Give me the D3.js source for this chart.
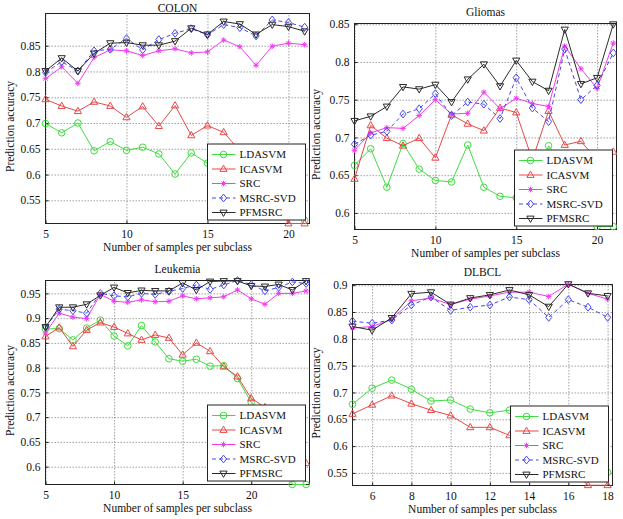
<!DOCTYPE html>
<html><head><meta charset="utf-8">
<script src="https://cdn.jsdelivr.net/npm/d3@7"></script>
<style>
body{margin:0;background:#fff}
svg{display:block}
text{font-family:"Liberation Serif","Times New Roman",serif;fill:#111}
</style></head><body>
<svg id="chart" width="623" height="519"></svg>
<script>
// ---------- data ----------
const seriesNames = ["LDASVM","ICASVM","SRC","MSRC-SVD","PFMSRC"];

const colonX = [5,6,7,8,9,10,11,12,13,14,15,16,17,18,19,20,21];
const colonLDASVM  = [0.699,0.681,0.700,0.646,0.664,0.647,0.653,0.640,0.601,0.642,0.622,0.610,0.598,0.580,0.560,0.540,0.511];
const colonICASVM  = [0.746,0.733,0.723,0.741,0.733,0.711,0.732,0.694,0.734,0.676,0.695,0.682,0.646,0.620,0.570,0.505,0.505];
const colonSRC     = [0.786,0.809,0.777,0.827,0.842,0.840,0.831,0.840,0.844,0.836,0.838,0.861,0.848,0.812,0.849,0.855,0.852];
const colonMSRCSVD = [0.798,0.819,0.801,0.840,0.843,0.864,0.842,0.862,0.874,0.883,0.871,0.891,0.885,0.869,0.900,0.895,0.886];
const colonPFMSRC  = [0.801,0.826,0.801,0.835,0.855,0.856,0.851,0.851,0.859,0.884,0.872,0.897,0.892,0.872,0.891,0.887,0.878];
const colonXTicks = [5,10,15,20];
const colonYTicks = [0.55,0.6,0.65,0.7,0.75,0.8,0.85];

const gliomasX = [5,6,7,8,9,10,11,12,13,14,15,16,17,18,19,20,21];
const gliomasLDASVM  = [0.663,0.685,0.634,0.692,0.658,0.643,0.641,0.690,0.634,0.622,0.620,0.615,0.689,0.660,0.630,0.582,0.582];
const gliomasICASVM  = [0.645,0.716,0.699,0.689,0.699,0.673,0.730,0.718,0.709,0.739,0.733,0.670,0.735,0.690,0.695,0.670,0.681];
const gliomasSRC     = [0.683,0.706,0.713,0.712,0.729,0.750,0.731,0.732,0.760,0.738,0.752,0.745,0.741,0.821,0.791,0.765,0.825];
const gliomasMSRCSVD = [0.691,0.703,0.708,0.731,0.738,0.758,0.729,0.747,0.744,0.725,0.779,0.739,0.721,0.817,0.750,0.769,0.812];
const gliomasPFMSRC  = [0.722,0.728,0.741,0.767,0.764,0.770,0.747,0.777,0.797,0.768,0.802,0.774,0.762,0.843,0.771,0.779,0.850];
const gliomasXTicks = [5,10,15,20];
const gliomasYTicks = [0.6,0.65,0.7,0.75,0.8,0.85];

const leukemiaX = [5,6,7,8,9,10,11,12,13,14,15,16,17,18,19,20,21,22,23,24];
const leukemiaLDASVM  = [0.878,0.879,0.856,0.880,0.896,0.864,0.844,0.885,0.852,0.818,0.813,0.817,0.803,0.804,0.778,0.730,0.700,0.660,0.564,0.564];
const leukemiaICASVM  = [0.863,0.881,0.843,0.876,0.891,0.882,0.869,0.856,0.866,0.860,0.826,0.850,0.833,0.802,0.782,0.738,0.720,0.690,0.650,0.607];
const leukemiaSRC     = [0.870,0.910,0.902,0.899,0.948,0.934,0.932,0.937,0.933,0.934,0.945,0.939,0.941,0.943,0.957,0.939,0.928,0.950,0.950,0.955];
const leukemiaMSRCSVD = [0.882,0.918,0.915,0.910,0.950,0.945,0.943,0.950,0.948,0.954,0.960,0.967,0.958,0.967,0.976,0.968,0.955,0.962,0.973,0.970];
const leukemiaPFMSRC  = [0.882,0.922,0.922,0.928,0.946,0.962,0.951,0.956,0.955,0.955,0.971,0.957,0.974,0.975,0.975,0.965,0.964,0.968,0.957,0.975];
const leukemiaXTicks = [5,10,15,20];
const leukemiaYTicks = [0.6,0.65,0.7,0.75,0.8,0.85,0.9,0.95];

const dlbclX = [5,6,7,8,9,10,11,12,13,14,15,16,17,18];
const dlbclLDASVM  = [0.678,0.708,0.723,0.706,0.684,0.686,0.669,0.662,0.667,0.660,0.630,0.600,0.570,0.551];
const dlbclICASVM  = [0.660,0.677,0.694,0.679,0.667,0.657,0.635,0.635,0.620,0.600,0.580,0.560,0.527,0.527];
const dlbclSRC     = [0.820,0.823,0.836,0.871,0.876,0.864,0.874,0.880,0.887,0.887,0.879,0.902,0.885,0.874];
const dlbclMSRCSVD = [0.833,0.829,0.835,0.863,0.878,0.853,0.859,0.863,0.878,0.873,0.840,0.873,0.859,0.840];
const dlbclPFMSRC  = [0.823,0.816,0.839,0.884,0.887,0.864,0.876,0.882,0.891,0.882,0.860,0.902,0.885,0.880];
const dlbclXTicks = [6,8,10,12,14,16,18];
const dlbclYTicks = [0.55,0.6,0.65,0.7,0.75,0.8,0.85,0.9];

// ---------- styles ----------
const styles = [
  {color:"#3fdc3f", marker:"circle",   dash:null},
  {color:"#e84848", marker:"triUp",    dash:null},
  {color:"#f03cf0", marker:"star",     dash:null},
  {color:"#4848ee", marker:"diamond",  dash:"4,3"},
  {color:"#2a2a2a", marker:"triDown",  dash:null}
];
const markerPath = {
  circle:  "M3.3,0A3.3,3.3 0 1,1 -3.3,0A3.3,3.3 0 1,1 3.3,0Z",
  triUp:   "M0,-3.9L3.6,2.4L-3.6,2.4Z",
  triDown: "M0,3.9L3.6,-2.4L-3.6,-2.4Z",
  diamond: "M0,-3.9L3.1,0L0,3.9L-3.1,0Z",
  star:    "M-2.8,0H2.8M0,-2.8V2.8M-2,-2L2,2M-2,2L2,-2"
};

const panels = [
  {title:"COLON",    x:colonX,    ys:[colonLDASVM,colonICASVM,colonSRC,colonMSRCSVD,colonPFMSRC],
   xTicks:colonXTicks, yTicks:colonYTicks, xDomain:[5,21.3], yDomain:[0.505,0.9125],
   left:45.5, right:309.5, top:13.5, bottom:223.5, titleY:7.5, ylabX:9.5},
  {title:"Gliomas",  x:gliomasX,  ys:[gliomasLDASVM,gliomasICASVM,gliomasSRC,gliomasMSRCSVD,gliomasPFMSRC],
   xTicks:gliomasXTicks, yTicks:gliomasYTicks, xDomain:[5,21.2], yDomain:[0.578,0.851],
   left:354.5, right:616.5, top:23.5, bottom:229.5, titleY:12, ylabX:316},
  {title:"Leukemia", x:leukemiaX, ys:[leukemiaLDASVM,leukemiaICASVM,leukemiaSRC,leukemiaMSRCSVD,leukemiaPFMSRC],
   xTicks:leukemiaXTicks, yTicks:leukemiaYTicks, xDomain:[5,24.25], yDomain:[0.564,0.976],
   left:45.5, right:309.5, top:280.5, bottom:484.5, titleY:269, ylabX:9.5},
  {title:"DLBCL",    x:dlbclX,    ys:[dlbclLDASVM,dlbclICASVM,dlbclSRC,dlbclMSRCSVD,dlbclPFMSRC],
   xTicks:dlbclXTicks, yTicks:dlbclYTicks, xDomain:[5,18.25], yDomain:[0.5265,0.9013],
   left:352.5, right:612.5, top:284.5, bottom:485.5, titleY:272, ylabX:316}
];

const svg = d3.select("#chart");
const FS = 11.5;
const fmt = d3.format("~g");

panels.forEach(p => {
  const g = svg.append("g");
  const x = d3.scaleLinear().domain(p.xDomain).range([p.left, p.right]);
  const y = d3.scaleLinear().domain(p.yDomain).range([p.bottom, p.top]);
  const w = p.right - p.left, h = p.bottom - p.top;

  // grid
  const gx = g.append("g").attr("transform", `translate(0,${p.bottom})`)
    .call(d3.axisBottom(x).tickValues(p.xTicks).tickSize(-h).tickFormat(""));
  const gy = g.append("g").attr("transform", `translate(${p.left},0)`)
    .call(d3.axisLeft(y).tickValues(p.yTicks).tickSize(-w).tickFormat(""));
  [gx, gy].forEach(a => {
    a.select(".domain").remove();
    a.selectAll("line").attr("stroke", "#8a8a8a").attr("stroke-width", 0.8).attr("stroke-dasharray", "1.5,1.5");
  });

  // axes with labels
  const ax = g.append("g").attr("transform", `translate(0,${p.bottom})`)
    .call(d3.axisBottom(x).tickValues(p.xTicks).tickSizeInner(-3).tickSizeOuter(0).tickPadding(6).tickFormat(fmt));
  const ay = g.append("g").attr("transform", `translate(${p.left},0)`)
    .call(d3.axisLeft(y).tickValues(p.yTicks).tickSizeInner(-3).tickSizeOuter(0).tickPadding(5).tickFormat(fmt));
  [ax, ay].forEach(a => {
    a.select(".domain").remove();
    a.attr("font-size", null).attr("font-family", null);
    a.selectAll("text").style("font-size", FS + "px").attr("fill", "#111");
    a.selectAll("line").attr("stroke", "#222");
  });

  // box
  g.append("rect").attr("x", p.left).attr("y", p.top).attr("width", w).attr("height", h)
    .attr("fill", "none").attr("stroke", "#222").attr("stroke-width", 1);

  // series
  p.ys.forEach((vals, i) => {
    const st = styles[i];
    const pts = p.x.map((xv, j) => [xv, vals[j]]);
    g.append("path").datum(pts)
      .attr("d", d3.line().x(d => x(d[0])).y(d => y(d[1])))
      .attr("fill", "none").attr("stroke", st.color).attr("stroke-width", 1)
      .attr("stroke-dasharray", st.dash);
    g.append("g").selectAll("path").data(pts).join("path")
      .attr("transform", d => `translate(${x(d[0])},${y(d[1])})`)
      .attr("d", markerPath[st.marker])
      .attr("fill", "none").attr("stroke", st.color).attr("stroke-width", 1);
  });

  // title & labels
  g.append("text").attr("x", (p.left + p.right) / 2).attr("y", p.titleY).attr("dy", "0.35em")
    .attr("text-anchor", "middle").style("font-size", FS + "px").text(p.title);
  g.append("text").attr("x", (p.left + p.right) / 2).attr("y", p.bottom + 23.5).attr("dy", "0.35em")
    .attr("text-anchor", "middle").style("font-size", FS + "px").text("Number of samples per subclass");
  g.append("text").attr("transform", `translate(${p.ylabX},${(p.top + p.bottom) / 2 + 8}) rotate(-90)`)
    .attr("dy", "0.35em").attr("text-anchor", "middle").style("font-size", FS + "px").text("Prediction accuracy");

  // legend
  const lw = 98, lh = 76, rowH = 14.5;
  const lx = p.right - 4 - lw, ly = p.bottom - 3.5 - lh;
  const lg = g.append("g");
  lg.append("rect").attr("x", lx).attr("y", ly).attr("width", lw).attr("height", lh)
    .attr("fill", "#fff").attr("stroke", "#222").attr("stroke-width", 1);
  seriesNames.forEach((name, i) => {
    const st = styles[i];
    const ry = ly + 10.5 + i * rowH;
    lg.append("line").attr("x1", lx + 4.5).attr("x2", lx + 28).attr("y1", ry).attr("y2", ry)
      .attr("stroke", st.color).attr("stroke-width", 1).attr("stroke-dasharray", st.dash);
    lg.append("path").attr("transform", `translate(${lx + 16},${ry})`).attr("d", markerPath[st.marker])
      .attr("fill", "none").attr("stroke", st.color).attr("stroke-width", 1);
    lg.append("text").attr("x", lx + 32).attr("y", ry).attr("dy", "0.35em")
      .style("font-size", "11px").text(name);
  });
});
</script>
</body></html>
